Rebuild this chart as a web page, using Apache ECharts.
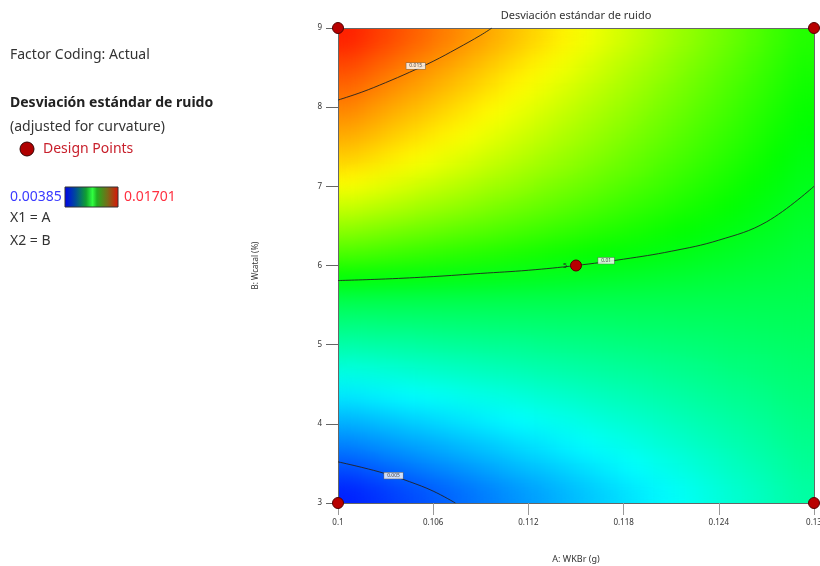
<!DOCTYPE html>
<html>
<head>
<meta charset="utf-8">
<script src="https://cdn.jsdelivr.net/npm/echarts@6/dist/echarts.min.js"></script>
<style>
html,body{margin:0;padding:0;background:#fff}
#wrap{position:relative;width:820px;height:566px}
#heat{position:absolute;left:338px;top:28px;width:476px;height:475px;filter:url(#smooth)}
#c{position:absolute;left:0;top:0;width:820px;height:566px}
</style>
</head>
<body>
<svg width="0" height="0" style="position:absolute">
  <filter id="smooth" x="0" y="0" width="1" height="1" filterUnits="objectBoundingBox" color-interpolation-filters="sRGB">
    <feGaussianBlur stdDeviation="10"/>
    <feComponentTransfer><feFuncA type="table" tableValues="1 1"/></feComponentTransfer>
  </filter>
</svg>
<div id="wrap"><div id="heat"></div><div id="c"></div></div>
<script>
// ---- data ----
const xTicks = [0.1, 0.106, 0.112, 0.118, 0.124, 0.13];
const yTicks = [3, 4, 5, 6, 7, 8, 9];
const valueMin = 0.00385;
const valueMax = 0.01701;
// cell centres of the estimated response grid
const xCells = [0.10075,0.10225,0.10375,0.10525,0.10675,0.10825,0.10975,0.11125,0.11275,0.11425,0.11575,0.11725,0.11875,0.12025,0.12175,0.12325,0.12475,0.12625,0.12775,0.12925];
const yCells = [3.15,3.45,3.75,4.05,4.35,4.65,4.95,5.25,5.55,5.85,6.15,6.45,6.75,7.05,7.35,7.65,7.95,8.25,8.55,8.85];
// estimated response read from the shading (rows from B=3.15 up to B=8.85, columns from A=0.10075 to 0.12925)
const surface = [
[0.00426,0.00447,0.00469,0.00490,0.00512,0.00533,0.00554,0.00576,0.00597,0.00619,0.00640,0.00662,0.00683,0.00705,0.00726,0.00747,0.00769,0.00790,0.00812,0.00833],
[0.00490,0.00509,0.00528,0.00547,0.00565,0.00584,0.00603,0.00622,0.00640,0.00659,0.00678,0.00697,0.00715,0.00734,0.00753,0.00772,0.00790,0.00809,0.00828,0.00847],
[0.00555,0.00571,0.00587,0.00603,0.00619,0.00635,0.00651,0.00667,0.00683,0.00700,0.00716,0.00732,0.00748,0.00764,0.00780,0.00796,0.00812,0.00828,0.00844,0.00860],
[0.00620,0.00633,0.00646,0.00660,0.00673,0.00686,0.00700,0.00713,0.00727,0.00740,0.00753,0.00767,0.00780,0.00793,0.00807,0.00820,0.00833,0.00847,0.00860,0.00873],
[0.00684,0.00695,0.00706,0.00716,0.00727,0.00738,0.00748,0.00759,0.00770,0.00780,0.00791,0.00802,0.00812,0.00823,0.00833,0.00844,0.00855,0.00865,0.00876,0.00887],
[0.00749,0.00757,0.00765,0.00773,0.00781,0.00789,0.00797,0.00805,0.00813,0.00821,0.00829,0.00836,0.00844,0.00852,0.00860,0.00868,0.00876,0.00884,0.00892,0.00900],
[0.00814,0.00819,0.00824,0.00829,0.00835,0.00840,0.00845,0.00850,0.00856,0.00861,0.00866,0.00871,0.00877,0.00882,0.00887,0.00892,0.00898,0.00903,0.00908,0.00913],
[0.00878,0.00881,0.00883,0.00886,0.00889,0.00891,0.00894,0.00896,0.00899,0.00901,0.00904,0.00906,0.00909,0.00911,0.00914,0.00917,0.00919,0.00922,0.00924,0.00927],
[0.00943,0.00943,0.00943,0.00942,0.00942,0.00942,0.00942,0.00942,0.00942,0.00942,0.00941,0.00941,0.00941,0.00941,0.00941,0.00941,0.00941,0.00940,0.00940,0.00940],
[0.01040,0.01035,0.01031,0.01026,0.01022,0.01017,0.01013,0.01008,0.01004,0.00999,0.00995,0.00990,0.00986,0.00981,0.00977,0.00972,0.00968,0.00963,0.00959,0.00954],
[0.01137,0.01128,0.01119,0.01110,0.01101,0.01092,0.01084,0.01075,0.01066,0.01057,0.01048,0.01039,0.01030,0.01022,0.01013,0.01004,0.00995,0.00986,0.00977,0.00968],
[0.01223,0.01210,0.01197,0.01185,0.01172,0.01159,0.01147,0.01134,0.01122,0.01109,0.01096,0.01084,0.01071,0.01058,0.01046,0.01033,0.01020,0.01008,0.00995,0.00982],
[0.01303,0.01287,0.01271,0.01255,0.01239,0.01223,0.01206,0.01190,0.01174,0.01158,0.01142,0.01126,0.01109,0.01093,0.01077,0.01061,0.01046,0.01028,0.01012,0.00996],
[0.01374,0.01354,0.01335,0.01316,0.01297,0.01278,0.01259,0.01240,0.01220,0.01201,0.01182,0.01163,0.01144,0.01125,0.01105,0.01086,0.01067,0.01048,0.01029,0.01010],
[0.01433,0.01411,0.01390,0.01368,0.01346,0.01325,0.01303,0.01282,0.01260,0.01239,0.01217,0.01195,0.01174,0.01152,0.01131,0.01109,0.01088,0.01066,0.01044,0.01023],
[0.01481,0.01458,0.01434,0.01411,0.01388,0.01364,0.01341,0.01317,0.01294,0.01270,0.01247,0.01223,0.01200,0.01177,0.01153,0.01130,0.01106,0.01083,0.01059,0.01036],
[0.01525,0.01499,0.01474,0.01449,0.01424,0.01399,0.01374,0.01349,0.01324,0.01299,0.01274,0.01249,0.01224,0.01199,0.01174,0.01149,0.01124,0.01099,0.01074,0.01049],
[0.01568,0.01541,0.01514,0.01488,0.01461,0.01435,0.01408,0.01381,0.01355,0.01328,0.01301,0.01275,0.01248,0.01221,0.01195,0.01168,0.01141,0.01115,0.01088,0.01061],
[0.01611,0.01583,0.01554,0.01526,0.01498,0.01470,0.01441,0.01413,0.01385,0.01357,0.01328,0.01300,0.01272,0.01244,0.01215,0.01187,0.01159,0.01131,0.01102,0.01074],
[0.01660,0.01629,0.01599,0.01569,0.01539,0.01509,0.01479,0.01449,0.01419,0.01388,0.01358,0.01328,0.01298,0.01268,0.01238,0.01208,0.01178,0.01147,0.01117,0.01087]
];
// contour lines
const c015X = [0.1, 0.1015, 0.103, 0.1045, 0.106, 0.1075, 0.109, 0.1097];
const c015Y = [8.09, 8.19, 8.31, 8.44, 8.58, 8.74, 8.91, 9.0];
const c010X = [0.1, 0.103, 0.106, 0.109, 0.112, 0.115, 0.118, 0.121, 0.124, 0.127, 0.13];
const c010Y = [5.81, 5.83, 5.86, 5.90, 5.94, 6.0, 6.08, 6.18, 6.32, 6.55, 7.0];
const c005X = [0.1, 0.1015, 0.103, 0.1045, 0.106, 0.1074];
const c005Y = [3.52, 3.45, 3.37, 3.27, 3.15, 3.0];
const contourLabelX = [0.1049, 0.1169, 0.1035];
const contourLabelY = [8.52, 6.06, 3.345];
const contourLabelText = ['0.015', '0.01', '0.005'];
// design points
const designA = [0.1, 0.1, 0.13, 0.13, 0.115];
const designB = [3, 9, 3, 9, 6];
const designRuns = ['', '', '', '', '5'];

// ---- build ----
const heatData = [];
surface.forEach((row, j) => row.forEach((v, i) => heatData.push([i, j, v])));
const pairs = (xs, ys) => xs.map((x, i) => [x, ys[i]]);
const FONT = 'Noto Sans';

// response surface shading (occupies exactly the plot rectangle)
const heat = echarts.init(document.getElementById('heat'), null, {renderer: 'canvas'});
heat.setOption({
  animation: false,
  grid: {left: 0, top: 0, right: 0, bottom: 0, outerBoundsMode: 'none', containLabel: false},
  visualMap: {
    show: false, type: 'continuous', min: valueMin, max: valueMax, dimension: 2,
    inRange: {color: ['#0000ff', '#00ffff', '#00ff00', '#ffff00', '#ff0000']}
  },
  xAxis: {type: 'category', data: xCells, show: false},
  yAxis: {type: 'category', data: yCells, show: false},
  series: [{type: 'heatmap', data: heatData, progressive: 0,
    itemStyle: {borderWidth: 0}, emphasis: {disabled: true}}]
});

// axes, contours, points, texts
const chart = echarts.init(document.getElementById('c'), null, {renderer: 'canvas'});
const lineStyle = {color: '#222', width: 0.9};
chart.setOption({
  animation: false,
  backgroundColor: 'transparent',
  textStyle: {fontFamily: FONT},
  grid: {left: 338, top: 28, width: 476, height: 475, show: false, outerBoundsMode: 'none', containLabel: false},
  xAxis: [
    {type: 'value', min: 0.1, max: 0.13, position: 'bottom',
      axisLine: {show: true, onZero: false, lineStyle: {color: '#666'}},
      axisTick: {show: true, length: 12, customValues: xTicks, lineStyle: {color: '#999'}},
      axisLabel: {customValues: xTicks, fontSize: 8, color: '#333', margin: 16, fontFamily: FONT},
      splitLine: {show: false},
      name: 'A: WKBr (g)', nameLocation: 'middle', nameGap: 52,
      nameTextStyle: {fontSize: 9, color: '#333', fontFamily: FONT}},
    {type: 'value', min: 0.1, max: 0.13, position: 'top',
      axisLine: {show: true, onZero: false, lineStyle: {color: '#666'}},
      axisTick: {show: false}, axisLabel: {show: false}, splitLine: {show: false}}
  ],
  yAxis: [
    {type: 'value', min: 3, max: 9, interval: 1, position: 'left',
      axisLine: {show: true, onZero: false, lineStyle: {color: '#666'}},
      axisTick: {show: true, length: 12, lineStyle: {color: '#666'}},
      axisLabel: {fontSize: 8, color: '#333', margin: 16, fontFamily: FONT,
        customValues: yTicks},
      splitLine: {show: false},
      name: 'B: Wcatal (%)', nameLocation: 'middle', nameGap: 78, nameRotate: 90,
      nameTextStyle: {fontSize: 8, color: '#333', fontFamily: FONT}},
    {type: 'value', min: 3, max: 9, position: 'right',
      axisLine: {show: true, onZero: false, lineStyle: {color: '#666'}},
      axisTick: {show: false}, axisLabel: {show: false}, splitLine: {show: false}}
  ],
  series: [
    {type: 'line', data: pairs(c015X, c015Y), smooth: 0.4,
      symbol: 'none', lineStyle: lineStyle, z: 3},
    {type: 'line', data: pairs(c010X, c010Y), smooth: 0.4,
      symbol: 'none', lineStyle: lineStyle, z: 3},
    {type: 'line', data: pairs(c005X, c005Y), smooth: 0.4,
      symbol: 'none', lineStyle: lineStyle, z: 3},
    {type: 'scatter', symbolSize: 0, z: 4,
      data: contourLabelX.map((x, i) => [x, contourLabelY[i], contourLabelText[i]]),
      label: {show: true, position: 'inside', formatter: p => p.data[2], fontSize: 5,
        color: '#222', backgroundColor: '#fff', borderColor: '#666', borderWidth: 0.6,
        padding: [1, 3, 0, 3], fontFamily: FONT}},
    {type: 'scatter', clip: false, symbolSize: 11, z: 5,
      data: designA.map((a, i) => ({value: [a, designB[i]], run: designRuns[i]})),
      itemStyle: {color: '#b80000', borderColor: '#550000', borderWidth: 1, opacity: 1},
      label: {show: true, position: 'left', distance: 3, formatter: p => p.data.run,
        fontSize: 7, color: '#222', fontFamily: FONT}}
  ],
  graphic: [
    {type: 'text', x: 576, y: 16, style: {text: 'Desviación estándar de ruido', align: 'center',
      verticalAlign: 'middle', fontSize: 11, fontFamily: FONT, fill: '#333'}},
    {type: 'text', x: 10, y: 55, style: {text: 'Factor Coding: Actual', verticalAlign: 'middle',
      fontSize: 14, fontFamily: FONT, fill: '#333'}},
    {type: 'text', x: 10, y: 103, style: {text: 'Desviación estándar de ruido', verticalAlign: 'middle',
      fontSize: 14, fontWeight: 'bold', fontFamily: FONT, fill: '#222'}},
    {type: 'text', x: 10, y: 127, style: {text: '(adjusted for curvature)', verticalAlign: 'middle',
      fontSize: 14, fontFamily: FONT, fill: '#333'}},
    {type: 'circle', shape: {cx: 27, cy: 149, r: 7}, style: {fill: '#b00000', stroke: '#300', lineWidth: 1}},
    {type: 'text', x: 43, y: 149, style: {text: 'Design Points', verticalAlign: 'middle',
      fontSize: 14, fontFamily: FONT, fill: '#c8202c'}},
    {type: 'text', x: 10, y: 197, style: {text: '0.00385', verticalAlign: 'middle',
      fontSize: 14, fontFamily: FONT, fill: '#3a3aff'}},
    {type: 'rect', shape: {x: 65, y: 187, width: 53, height: 20},
      style: {stroke: '#333', lineWidth: 1,
        fill: new echarts.graphic.LinearGradient(0, 0, 1, 0, [
          {offset: 0, color: '#0000f0'}, {offset: 0.2, color: '#004a9a'},
          {offset: 0.4, color: '#10a030'}, {offset: 0.52, color: '#30ff40'},
          {offset: 0.6, color: '#20b020'}, {offset: 0.8, color: '#7a6a18'},
          {offset: 1, color: '#e01008'}])}},
    {type: 'text', x: 124, y: 197, style: {text: '0.01701', verticalAlign: 'middle',
      fontSize: 14, fontFamily: FONT, fill: '#ff3040'}},
    {type: 'text', x: 10, y: 218, style: {text: 'X1 = A', verticalAlign: 'middle',
      fontSize: 14, fontFamily: FONT, fill: '#333'}},
    {type: 'text', x: 10, y: 241, style: {text: 'X2 = B', verticalAlign: 'middle',
      fontSize: 14, fontFamily: FONT, fill: '#333'}}
  ]
});
</script>
</body>
</html>
